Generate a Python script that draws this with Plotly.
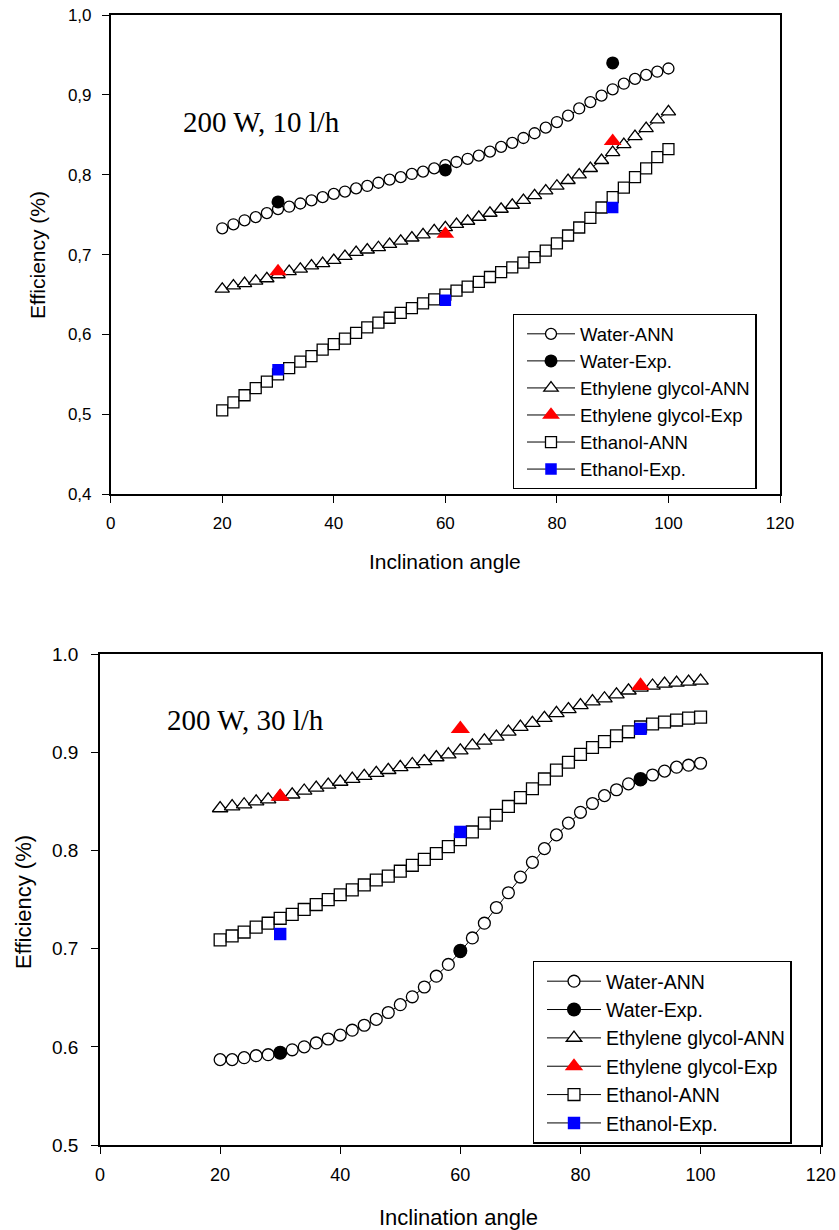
import plotly.graph_objects as go

# ---------------- data ----------------
angle = list(range(20, 101, 2))
exp_angle = [30, 60, 90]

# Top panel: 200 W, 10 l/h
top_water_ann = [0.733, 0.738, 0.743, 0.747, 0.752, 0.757, 0.760, 0.764, 0.768, 0.772,
                 0.776, 0.779, 0.783, 0.786, 0.790, 0.794, 0.797, 0.801, 0.804, 0.808,
                 0.812, 0.816, 0.820, 0.824, 0.829, 0.835, 0.840, 0.846, 0.852, 0.859,
                 0.866, 0.874, 0.883, 0.891, 0.899, 0.907, 0.914, 0.920, 0.925, 0.929, 0.933]
top_water_exp = [0.766, 0.806, 0.940]
top_eg_ann = [0.657, 0.661, 0.664, 0.667, 0.670, 0.675, 0.679, 0.682, 0.686, 0.689,
              0.693, 0.698, 0.703, 0.706, 0.709, 0.713, 0.717, 0.721, 0.725, 0.730,
              0.734, 0.738, 0.742, 0.747, 0.752, 0.757, 0.762, 0.768, 0.774, 0.780,
              0.786, 0.793, 0.800, 0.808, 0.818, 0.828, 0.838, 0.848, 0.858, 0.869, 0.879]
top_eg_exp = [0.679, 0.726, 0.842]
top_eth_ann = [0.505, 0.515, 0.524, 0.533, 0.541, 0.550, 0.558, 0.566, 0.573, 0.581,
               0.588, 0.595, 0.602, 0.609, 0.615, 0.621, 0.627, 0.633, 0.639, 0.644,
               0.650, 0.655, 0.660, 0.666, 0.672, 0.678, 0.684, 0.690, 0.697, 0.705,
               0.714, 0.724, 0.734, 0.746, 0.759, 0.772, 0.784, 0.797, 0.808, 0.822, 0.832]
top_eth_exp = [0.556, 0.643, 0.759]

# Bottom panel: 200 W, 30 l/h
bot_water_ann = [0.587, 0.587, 0.589, 0.591, 0.592, 0.594, 0.597, 0.600, 0.604, 0.608,
                 0.612, 0.617, 0.622, 0.628, 0.635, 0.643, 0.651, 0.661, 0.672, 0.684,
                 0.697, 0.711, 0.726, 0.742, 0.757, 0.773, 0.788, 0.802, 0.816, 0.828,
                 0.839, 0.848, 0.856, 0.862, 0.868, 0.872, 0.877, 0.881, 0.885, 0.887, 0.889]
bot_water_exp = [0.594, 0.698, 0.873]
bot_eg_ann = [0.843, 0.845, 0.847, 0.850, 0.852, 0.855, 0.857, 0.861, 0.864, 0.867,
              0.870, 0.873, 0.876, 0.879, 0.882, 0.885, 0.888, 0.891, 0.895, 0.898,
              0.902, 0.907, 0.912, 0.916, 0.921, 0.926, 0.930, 0.935, 0.940, 0.944,
              0.948, 0.952, 0.955, 0.959, 0.963, 0.966, 0.968, 0.970, 0.971, 0.972, 0.973]
bot_eg_exp = [0.855, 0.924, 0.968]
bot_eth_ann = [0.709, 0.713, 0.717, 0.722, 0.726, 0.731, 0.735, 0.740, 0.745, 0.750,
               0.755, 0.760, 0.765, 0.770, 0.774, 0.779, 0.785, 0.791, 0.797, 0.804,
               0.811, 0.819, 0.828, 0.836, 0.845, 0.854, 0.863, 0.873, 0.882, 0.890,
               0.898, 0.905, 0.911, 0.917, 0.921, 0.926, 0.929, 0.931, 0.933, 0.935, 0.936]
bot_eth_exp = [0.715, 0.819, 0.924]

series_names = ["Water-ANN", "Water-Exp.", "Ethylene glycol-ANN",
                "Ethylene glycol-Exp", "Ethanol-ANN", "Ethanol-Exp."]

x_ticks = [0, 20, 40, 60, 80, 100, 120]
x_ticklabels = ["0", "20", "40", "60", "80", "100", "120"]
top_y_ticks = [0.4, 0.5, 0.6, 0.7, 0.8, 0.9, 1.0]
top_y_ticklabels = ["0,4", "0,5", "0,6", "0,7", "0,8", "0,9", "1,0"]
bot_y_ticks = [0.5, 0.6, 0.7, 0.8, 0.9, 1.0]
bot_y_ticklabels = ["0.5", "0.6", "0.7", "0.8", "0.9", "1.0"]

top_label = "200 W, 10 l/h"
bot_label = "200 W, 30 l/h"
x_title = "Inclination angle"
y_title = "Efficiency (%)"

# ---------------- styles ----------------
W, H = 839, 1230
sans = "Liberation Sans, Arial, sans-serif"
serif = "Liberation Serif, Times New Roman, serif"

styles = [
    dict(symbol="circle", color="white", size=11),            # Water-ANN
    dict(symbol="circle", color="black", size=13),            # Water-Exp
    dict(symbol="triangle-up", color="white", size=12.5),     # EG-ANN
    dict(symbol="triangle-up", color="#ff0000", size=15.5),   # EG-Exp
    dict(symbol="square", color="white", size=11),            # Ethanol-ANN
    dict(symbol="square", color="#0000ff", size=11.5),        # Ethanol-Exp
]

fig = go.Figure()


def add_panel(xa, ya, legend_id, data, scale=1.0):
    for i, (name, yv) in enumerate(zip(series_names, data)):
        st = styles[i]
        is_ann = (i % 2 == 0)
        xs = angle if is_ann else exp_angle
        border = dict(color="black", width=1.3) if st["color"] == "white" else dict(color=st["color"], width=0)
        marker = dict(symbol=st["symbol"], color=st["color"], size=st["size"] * scale, line=border)
        fig.add_trace(go.Scatter(
            x=xs, y=yv, xaxis=xa, yaxis=ya,
            mode="lines+markers" if is_ann else "markers",
            line=dict(color="black", width=1),
            marker=marker, name=name,
            showlegend=is_ann, legend=legend_id, legendrank=100 + i,
        ))
        if not is_ann:
            # legend entry shows line + marker as in the original
            fig.add_trace(go.Scatter(
                x=[None], y=[None], xaxis=xa, yaxis=ya,
                mode="lines+markers", line=dict(color="black", width=1),
                marker=marker, name=name, showlegend=True,
                legend=legend_id, legendrank=100 + i,
            ))


add_panel("x", "y", "legend",
          [top_water_ann, top_water_exp, top_eg_ann, top_eg_exp, top_eth_ann, top_eth_exp])
add_panel("x2", "y2", "legend2",
          [bot_water_ann, bot_water_exp, bot_eg_ann, bot_eg_exp, bot_eth_ann, bot_eth_exp], 1.08)

# plot-area pixel boxes
top_box = (110.7, 780.0, 15.0, 494.3)
bot_box = (100.0, 820.7, 654.3, 1145.0)


def dom(box):
    l, r, t, b = box
    return [l / W, r / W], [(H - b) / H, (H - t) / H]


tx, ty = dom(top_box)
bx, by = dom(bot_box)

axis_common = dict(
    showline=True, linecolor="black", linewidth=1.5, mirror=True,
    ticks="outside", ticklen=7, tickwidth=1.3, tickcolor="black",
    showgrid=False, zeroline=False, automargin=False,
)

fig.update_layout(
    width=W, height=H, margin=dict(l=0, r=0, t=0, b=0, autoexpand=False),
    paper_bgcolor="white", plot_bgcolor="white",
    font=dict(family=sans, color="black"),
    xaxis=dict(domain=tx, range=[0, 120], anchor="y", tickvals=x_ticks, ticktext=x_ticklabels,
               tickfont=dict(size=17), ticklabelstandoff=6, **axis_common),
    yaxis=dict(domain=ty, range=[0.4, 1.0], anchor="x", tickvals=top_y_ticks, ticktext=top_y_ticklabels,
               tickfont=dict(size=17), ticklabelstandoff=7, **axis_common),
    xaxis2=dict(domain=bx, range=[0, 120], anchor="y2", tickvals=x_ticks, ticktext=x_ticklabels,
                tickfont=dict(size=18), ticklabelstandoff=6, **axis_common),
    yaxis2=dict(domain=by, range=[0.5, 1.0], anchor="x2", tickvals=bot_y_ticks, ticktext=bot_y_ticklabels,
                tickfont=dict(size=19), ticklabelstandoff=9, **axis_common),
    legend=dict(x=512.7 / W, y=(H - 314) / H, xanchor="left", yanchor="top",
                bgcolor="white", bordercolor="black", borderwidth=1.3,
                font=dict(size=18.5, family=sans), itemwidth=48, indentation=8,
                tracegroupgap=0, traceorder="normal"),
    legend2=dict(x=532.7 / W, y=(H - 960.7) / H, xanchor="left", yanchor="top",
                 bgcolor="white", bordercolor="black", borderwidth=1.3,
                 font=dict(size=19.5, family=sans), itemwidth=54, indentation=8,
                 tracegroupgap=0, traceorder="normal"),
)

annotations = [
    dict(text=top_label, x=12.6, y=0.866, xref="x", yref="y", xanchor="left", yanchor="middle",
         showarrow=False, font=dict(family=serif, size=29)),
    dict(text=bot_label, x=10.8, y=0.933, xref="x2", yref="y2", xanchor="left", yanchor="middle",
         showarrow=False, font=dict(family=serif, size=29)),
    dict(text=x_title, x=445 / W, y=(H - 561) / H, xref="paper", yref="paper",
         xanchor="center", yanchor="middle", showarrow=False, font=dict(size=21)),
    dict(text=x_title, x=458 / W, y=(H - 1217) / H, xref="paper", yref="paper",
         xanchor="center", yanchor="middle", showarrow=False, font=dict(size=22)),
    dict(text=y_title, x=38 / W, y=(H - 255) / H, xref="paper", yref="paper", textangle=-90,
         xanchor="center", yanchor="middle", showarrow=False, font=dict(size=21)),
    dict(text=y_title, x=23 / W, y=(H - 902) / H, xref="paper", yref="paper", textangle=-90,
         xanchor="center", yanchor="middle", showarrow=False, font=dict(size=22)),
]
fig.update_layout(annotations=annotations)

fig.write_html("out.html")
